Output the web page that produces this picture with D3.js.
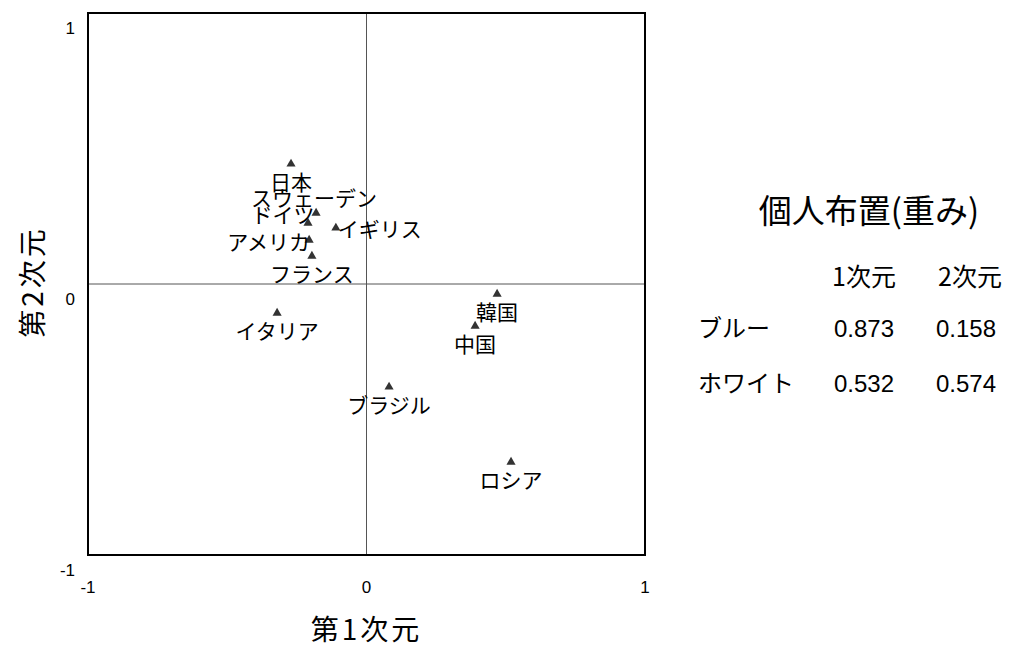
<!DOCTYPE html>
<html>
<head>
<meta charset="utf-8">
<script src="https://cdn.jsdelivr.net/npm/d3@7"></script>
<style>
  html, body { margin: 0; padding: 0; background: #fff; }
  svg { display: block; }
</style>
</head>
<body>
<svg id="chart" width="1011" height="648"></svg>
<script>
// ---- data ----
const countries = ["日本", "スウェーデン", "ドイツ", "イギリス", "アメリカ", "フランス", "イタリア", "韓国", "中国", "ブラジル", "ロシア"];
const dim1 = [-0.271, -0.181, -0.210, -0.110, -0.206, -0.196, -0.321, 0.469, 0.390, 0.081, 0.519];
const dim2 = [0.443, 0.262, 0.225, 0.207, 0.162, 0.103, -0.107, -0.037, -0.155, -0.380, -0.657];
const xTicks = [-1, 0, 1];
const yTicks = [-1, 0, 1];
const xTitle = "第1次元";
const yTitle = "第2次元";
const weightTitle = "個人布置(重み)";
const weightCols = ["1次元", "2次元"];
const weightRows = ["ブルー", "ホワイト"];
const weightVals = [["0.873", "0.158"], ["0.532", "0.574"]];

// label placement keywords (relative to marker)
const labelPlace = ["below", "above", "upleft", "right", "left", "below", "below", "below", "below", "below", "below"];

// ---- layout ----
const svg = d3.select("#chart");
const L = 88, R = 645, T = 13, B = 555;
const x = d3.scaleLinear().domain([-1, 1]).range([L, R]);
const y = d3.scaleLinear().domain([-1, 1]).range([B, T]);

const jp = "'Noto Sans CJK JP', 'Noto Sans', sans-serif";
const latR = "'Liberation Sans', Arial, sans-serif";

// zero lines
svg.append("line").attr("x1", x(0)).attr("x2", x(0)).attr("y1", T).attr("y2", B)
  .attr("stroke", "#555").attr("stroke-width", 1);
svg.append("line").attr("x1", L).attr("x2", R).attr("y1", y(0)).attr("y2", y(0))
  .attr("stroke", "#555").attr("stroke-width", 1);

// frame
svg.append("rect").attr("x", L).attr("y", T).attr("width", R - L).attr("height", B - T)
  .attr("fill", "none").attr("stroke", "#000").attr("stroke-width", 2);

// tick labels
svg.selectAll(".yt").data(yTicks).enter().append("text")
  .attr("x", 75).attr("y", d => y(d) + 21)
  .attr("text-anchor", "end")
  .style("font-family", latR).style("font-size", "17px").attr("fill", "#000")
  .text(d => d);
svg.selectAll(".xt").data(xTicks).enter().append("text")
  .attr("x", d => x(d)).attr("y", B + 38)
  .attr("text-anchor", "middle")
  .style("font-family", latR).style("font-size", "17px").attr("fill", "#000")
  .text(d => d);

// axis titles
svg.append("text").attr("x", x(0)).attr("y", 640).attr("text-anchor", "middle")
  .style("font-family", jp).style("font-size", "28px").style("letter-spacing", "3px")
  .attr("fill", "#000").text(xTitle);
svg.append("text").attr("transform", `translate(43, ${y(0) - 2}) rotate(-90)`).attr("text-anchor", "middle")
  .style("font-family", jp).style("font-size", "28px").style("letter-spacing", "3px")
  .attr("fill", "#000").text(yTitle);

// markers
const tri = d3.symbol().type(d3.symbolTriangle).size(36);
const pts = countries.map((c, i) => ({ name: c, x: dim1[i], y: dim2[i], place: labelPlace[i] }));
svg.selectAll(".m").data(pts).enter().append("path")
  .attr("d", tri)
  .attr("transform", d => `translate(${x(d.x)}, ${y(d.y)})`)
  .attr("fill", "#333");

// labels
const off = {
  below:  { dx: 0,  dy: 26, anchor: "middle" },
  above:  { dx: -2, dy: -7, anchor: "middle" },
  upleft: { dx: -25, dy: 0, anchor: "middle" },
  right:  { dx: 2,  dy: 9,  anchor: "start" },
  left:   { dx: 1,  dy: 10, anchor: "end" }
};
svg.selectAll(".lb").data(pts).enter().append("text")
  .attr("x", d => x(d.x) + off[d.place].dx)
  .attr("y", d => y(d.y) + off[d.place].dy)
  .attr("text-anchor", d => off[d.place].anchor)
  .style("font-family", jp).style("font-size", "21px").attr("fill", "#000")
  .text(d => d.name);

// weight table
svg.append("text").attr("x", 869).attr("y", 223).attr("text-anchor", "middle")
  .style("font-family", jp).style("font-size", "33px").attr("fill", "#000").text(weightTitle);
const colX = [864, 966];
svg.selectAll(".wc").data(weightCols).enter().append("text")
  .attr("x", (d, i) => colX[i] + (i === 1 ? 4 : 0)).attr("y", 286).attr("text-anchor", "middle")
  .style("font-family", jp).style("font-size", "25px").attr("fill", "#000").text(d => d);
const rowY = [337, 392];
svg.selectAll(".wr").data(weightRows).enter().append("text")
  .attr("x", 698).attr("y", (d, i) => rowY[i]).attr("text-anchor", "start")
  .style("font-family", jp).style("font-size", "24px").attr("fill", "#000").text(d => d);
weightVals.forEach((row, r) => {
  svg.selectAll(".wv" + r).data(row).enter().append("text")
    .attr("x", (d, i) => colX[i]).attr("y", rowY[r]).attr("text-anchor", "middle")
    .style("font-family", latR).style("font-size", "24px").attr("fill", "#000").text(d => d);
});
</script>
</body>
</html>
